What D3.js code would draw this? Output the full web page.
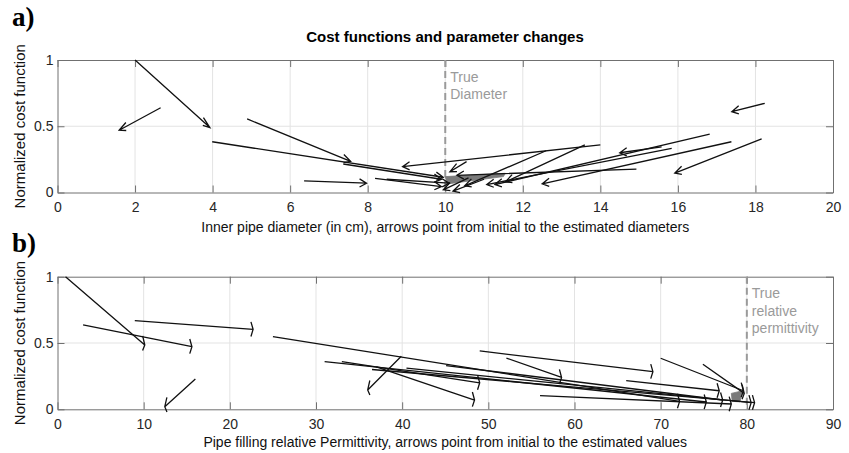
<!DOCTYPE html>
<html><head><meta charset="utf-8">
<script src="https://cdn.jsdelivr.net/npm/d3@7"></script>
<style>body{margin:0;background:#fff}svg{display:block}</style>
</head><body>
<svg id="c" width="849" height="453"></svg>
<script>
// ---------- data ----------
const diamTicks = [0,2,4,6,8,10,12,14,16,18,20];
const permTicks = [0,10,20,30,40,50,60,70,80,90];
const costTicks = [0,0.5,1];
// [x_initial, cost_initial, x_estimated, cost_estimated]
const diamArrows = [
  [2.0,1.0,3.93,0.49],[2.66,0.64,1.59,0.47],[4.89,0.555,7.56,0.235],
  [3.99,0.383,9.95,0.115],[14.0,0.36,8.9,0.195],[6.36,0.087,7.97,0.07],
  [7.37,0.215,9.9,0.10],[8.19,0.107,9.9,0.045],[8.49,0.10,10.1,0.07],
  [10.55,0.233,10.12,0.157],[18.24,0.673,17.39,0.61],[16.82,0.44,11.28,0.06],
  [17.38,0.383,12.5,0.065],[18.16,0.405,15.92,0.147],[15.58,0.345,14.5,0.30],
  [15.84,0.333,11.07,0.06],[14.93,0.177,10.3,0.13],[13.6,0.36,11.55,0.08],
  [12.6,0.315,10.5,0.05],[10.6,0.11,9.95,0.02],[11.0,0.10,10.2,0.01]
];
const permArrows = [
  [0.93,1.0,10.13,0.485],[2.97,0.636,15.6,0.472],[8.97,0.668,22.7,0.603],
  [16.0,0.229,12.45,0.02],[25.0,0.548,72.2,0.06],[39.9,0.40,36.0,0.146],
  [31.0,0.36,75.3,0.055],[37.0,0.32,48.4,0.07],[33.0,0.36,49.0,0.20],
  [45.1,0.33,77.2,0.07],[49.0,0.44,69.1,0.284],[52.1,0.386,58.5,0.24],
  [70.0,0.385,79.6,0.14],[74.9,0.34,79.7,0.12],[66.0,0.216,76.8,0.14],
  [56.0,0.103,78.2,0.04],[40.5,0.31,80.5,0.05],[36.5,0.30,80.9,0.05]
];
const diamCluster = [[10.0,0.12],[11.55,0.145],[11.5,0.12],[10.05,0.065]];
const permCluster = [[78.2,0.12],[79.5,0.14],[79.2,0.056],[78.3,0.06]];
const trueDiameter = 10, truePerm = 80;

// ---------- drawing ----------
const svg = d3.select("#c");
const L = 57.5, R = 833;
const font = "Liberation Sans, Arial, sans-serif";

function panel(cfg){
  const x = d3.scaleLinear().domain(cfg.xdom).range([L,R]);
  const y = d3.scaleLinear().domain([0,1]).range([cfg.bottom,cfg.top]);
  const g = svg.append("g");
  // grid
  g.selectAll(".gx").data(cfg.xticks.slice(1,-1)).join("line")
    .attr("x1",d=>x(d)).attr("x2",d=>x(d)).attr("y1",cfg.top).attr("y2",cfg.bottom)
    .attr("stroke","#e3e3e3").attr("stroke-width",1);
  g.append("line").attr("x1",L).attr("x2",R).attr("y1",y(0.5)).attr("y2",y(0.5))
    .attr("stroke","#e3e3e3").attr("stroke-width",1);
  // axes
  const ax = (gen, tr) => {
    const a = g.append("g").attr("transform",tr).call(gen);
    a.select(".domain").attr("stroke","#707070");
    a.selectAll(".tick line").attr("stroke","#707070");
    a.selectAll("text").attr("fill","#262626").style("font-family",font).style("font-size","14px");
    return a;
  };
  ax(d3.axisBottom(x).tickValues(cfg.xticks).tickSize(-7).tickSizeOuter(0).tickPadding(9.5).tickFormat(d3.format("d")), `translate(0,${cfg.bottom})`);
  ax(d3.axisTop(x).tickValues(cfg.xticks).tickSize(-7).tickSizeOuter(0).tickFormat(""), `translate(0,${cfg.top})`);
  ax(d3.axisLeft(y).tickValues(costTicks).tickSize(-7).tickSizeOuter(0).tickPadding(4).tickFormat(d=>d===0.5?"0.5":d3.format("d")(d)), `translate(${L},0)`);
  ax(d3.axisRight(y).tickValues(costTicks).tickSize(-7).tickSizeOuter(0).tickFormat(""), `translate(${R},0)`);
  // true line
  g.append("line").attr("x1",x(cfg.trueX)).attr("x2",x(cfg.trueX)).attr("y1",cfg.top).attr("y2",cfg.bottom)
    .attr("stroke","#9a9a9a").attr("stroke-width",2).attr("stroke-dasharray","7,4");
  const tl = g.append("text").attr("fill","#9a9a9a").style("font-family",font).style("font-size","14px");
  cfg.trueLabel.forEach((s,i)=>tl.append("tspan").attr("x",x(cfg.trueX)+5).attr("y",cfg.top+21.5+i*17.5).text(s));
  // cluster patch
  g.append("path").datum(cfg.cluster)
    .attr("d",d3.line().x(d=>x(d[0])).y(d=>y(d[1])).curve(d3.curveLinearClosed))
    .attr("fill","#7a7a7a").attr("stroke","#7a7a7a").attr("stroke-width",0.8);
  // arrows
  const pathFor = a => {
    const [x0,y0,x1,y1] = a;
    const du = x1-x0, dv = y1-y0, n = Math.hypot(du,dv);
    const u = du/n, v = dv/n, hl = cfg.head, b = cfg.beta;
    const w1 = [x1 - hl*(u + b*v), y1 - hl*(v - b*u)];
    const w2 = [x1 - hl*(u - b*v), y1 - hl*(v + b*u)];
    return `M${x(x0)},${y(y0)}L${x(x1)},${y(y1)}M${x(w1[0])},${y(w1[1])}L${x(x1)},${y(y1)}L${x(w2[0])},${y(w2[1])}`;
  };
  g.selectAll(".arr").data(cfg.arrows).join("path")
    .attr("d",pathFor).attr("fill","none").attr("stroke","#111").attr("stroke-width",1.3)
    .attr("stroke-linejoin","miter");
  // labels
  g.append("text").attr("x",(L+R)/2).attr("y",cfg.xlabY).attr("text-anchor","middle")
    .attr("fill","#111").style("font-family",font).style("font-size","14px").text(cfg.xlabel);
  g.append("text").attr("transform",`translate(25,${(cfg.top+cfg.bottom)/2}) rotate(-90)`)
    .attr("text-anchor","middle").attr("fill","#111").style("font-family",font).style("font-size","15px")
    .text("Normalized cost function");
  g.append("text").attr("x",12).attr("y",cfg.tagY).attr("fill","#000")
    .style("font-family","Liberation Serif, Times New Roman, serif").style("font-weight","bold").style("font-size","27px")
    .text(cfg.tag);
}

svg.append("text").attr("x",445).attr("y",42).attr("text-anchor","middle")
  .style("font-family",font).style("font-size","15px").style("font-weight","bold").attr("fill","#000")
  .text("Cost functions and parameter changes");

panel({xdom:[0,20], xticks:diamTicks, top:60, bottom:192.5, arrows:diamArrows, cluster:diamCluster,
  trueX:trueDiameter, trueLabel:["True","Diameter"], head:0.18, beta:0.17,
  xlabel:"Inner pipe diameter (in cm), arrows point from initial to the estimated diameters",
  xlabY:232, tag:"a)", tagY:26});
panel({xdom:[0,90], xticks:permTicks, top:276.7, bottom:409.3, arrows:permArrows, cluster:permCluster,
  trueX:truePerm, trueLabel:["True","relative","permittivity"], head:0.25, beta:0.22,
  xlabel:"Pipe filling relative Permittivity, arrows point from initial to the estimated values",
  xlabY:447, tag:"b)", tagY:252});
</script>
</body></html>
